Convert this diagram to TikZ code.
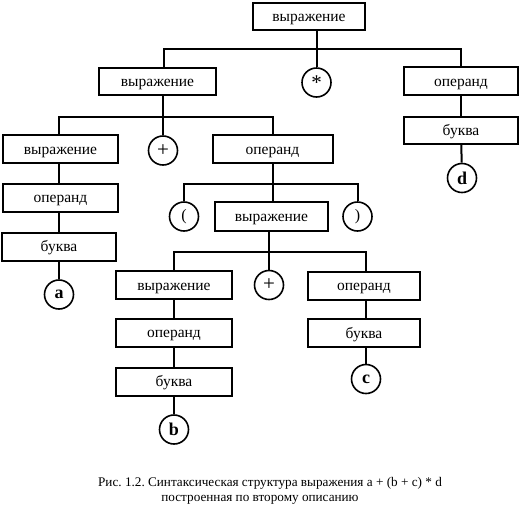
\documentclass[tikz,border=0pt]{standalone}
\usepackage{fontspec}
\setmainfont{Liberation Serif}
\frenchspacing
\begin{document}
\begin{tikzpicture}[x=1pt,y=-1pt,
  box/.style={draw, line width=2pt, minimum width=#1, minimum height=28pt, inner sep=0pt,
    text height=10pt, text depth=0pt, font=\fontsize{15.5}{15.5}\selectfont},
  box/.default=115pt,
  term/.style={draw, circle, line width=1.6pt, minimum size=29pt, inner sep=0pt, font=\fontsize{16}{16}\selectfont},
  sym/.style={term, font=\fontsize{21}{21}\selectfont},
  lett/.style={term, font=\fontsize{18}{18}\selectfont\bfseries},
  conn/.style={line width=2pt},
  captext/.style={anchor=base, inner sep=0pt, font=\fontsize{13.2}{13.2}\selectfont}]
\useasboundingbox (0,0) rectangle (521,512);
% nodes
\node[box=112pt, minimum height=27pt] (top) at (309,16.5) {выражение};
\node[sym] (star) at (316.5,82.5) {*};
\node[box=117pt, minimum height=27pt] (e1) at (157.5,81.5) {выражение};
\node[box=114pt] (op1) at (461,81) {операнд};
\node[box=114pt, minimum height=27pt] (bu1) at (461,130.5) {буква};
\node[lett] (d) at (462,178) {d};
\node[box=115pt] (e2) at (60.5,149) {выражение};
\node[sym] (plus1) at (163,150.5) {+};
\node[box=120pt] (o2) at (272.5,149) {операнд};
\node[box=115pt] (o3) at (60.5,197.5) {операнд};
\node[box=114pt] (bu2) at (59,246.5) {буква};
\node[lett] (a) at (59,294.5) {a};
\node[term] (lp) at (184,216.5) {(};
\node[box=113pt, minimum height=29pt] (e3) at (271.5,216.5) {выражение};
\node[term] (rp) at (357.5,216.5) {)};
\node[box=116pt] (e4) at (174,285) {выражение};
\node[sym] (plus2) at (269,285) {+};
\node[box=112pt] (o4) at (364,285.5) {операнд};
\node[box=116pt] (o5) at (174,332.5) {операнд};
\node[box=116pt] (bu3) at (174,381.5) {буква};
\node[lett] (b) at (174,429.5) {b};
\node[box=112pt] (bu4) at (364,333) {буква};
\node[lett] (c) at (366,379) {c};
% bars
\coordinate (bar1) at (316,49);
\coordinate (bar2) at (163,117);
\coordinate (bar3) at (271,184);
\coordinate (bar4) at (269,252);
% connectors
\draw[conn] (star.north) -- (star.north |- top.south);
\draw[conn] ([xshift=6pt]e1.north) |- (bar1) -| (op1.north);
\draw[conn] (op1) -- (bu1);
\draw[conn] (bu1) -- (d);
\draw[conn] (plus1.north) -- (plus1.north |- e1.south);
\draw[conn] ([xshift=-1.5pt]e2.north) |- (bar2) -| (o2.north);
\draw[conn] ([xshift=-1.5pt]e2.south) -- ([xshift=-1.5pt]o3.north);
\draw[conn] ([xshift=-1.5pt]o3.south) -- (bu2.north);
\draw[conn] (bu2) -- (a);
\draw[conn] (e3.north -| o2.south) -- (o2.south);
\draw[conn] (lp.north) |- (bar3) -| (rp.north);
\draw[conn] (plus2.north) -- (plus2.north |- e3.south);
\draw[conn] (e4.north) |- (bar4) -| ([xshift=2pt]o4.north);
\draw[conn] (e4) -- (o5);
\draw[conn] (o5) -- (bu3);
\draw[conn] (bu3) -- (b);
\draw[conn] ([xshift=2pt]o4.south) -- ([xshift=2pt]bu4.north);
\draw[conn] ([xshift=2pt]bu4.south) -- (c);
% caption
\node[captext] (cap1) at (270,486) {Рис. 1.2. Синтаксическая структура выражения a + (b + c) * d};
\node[captext] (cap2) at (260,501) {построенная по второму описанию};
\end{tikzpicture}
\end{document}
